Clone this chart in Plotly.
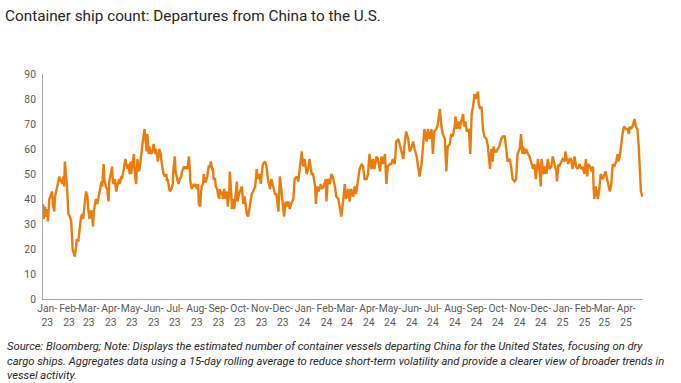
import datetime as dt
import plotly.graph_objects as go

# ---- data ----
base_date = "2022-12-26"
day_offset = [
    0, 1, 3, 4, 6, 7, 9, 11, 13, 14, 16, 17, 19, 21, 23, 25, 26, 27, 29, 30, 31, 33, 34, 36, 38, 40, 41, 42, 44, 45,
    47, 48, 50, 51, 52, 54, 56, 57, 59, 61, 63, 64, 66, 67, 69, 71, 72, 74, 75, 77, 79, 81, 83, 84, 86, 87, 89, 91, 93, 94,
    96, 98, 99, 100, 102, 104, 105, 107, 108, 109, 111, 112, 114, 116, 117, 118, 120, 121, 123, 124, 125, 127, 129, 130, 132, 134, 135, 137, 138, 140,
    141, 142, 144, 145, 147, 148, 150, 151, 152, 154, 156, 157, 159, 160, 162, 163, 165, 167, 168, 170, 171, 173, 175, 176, 177, 179, 180, 182, 184, 185,
    187, 188, 190, 191, 192, 194, 196, 197, 199, 200, 202, 204, 205, 207, 208, 209, 211, 212, 214, 216, 217, 218, 220, 221, 223, 224, 225, 227, 228, 230,
    231, 233, 234, 235, 237, 238, 240, 241, 242, 244, 245, 247, 248, 250, 251, 252, 254, 255, 257, 258, 259, 261, 262, 264, 265, 267, 268, 269, 271, 272,
    274, 275, 276, 278,
    282, 284, 286, 289, 291, 294, 296, 298, 301, 303, 305, 307, 309, 310, 312, 315, 317, 319, 322, 324, 327, 329, 331, 334, 336, 338, 341, 342, 344, 345,
    348, 350, 352, 355, 357, 360, 362, 364, 367, 369, 371, 374, 376, 378, 381, 383, 386, 387, 389, 391, 394, 396, 398, 401, 402, 404, 407, 409, 411, 414,
    416, 419, 421, 423, 426, 428, 430, 433, 435, 437, 440, 442, 444, 447, 449, 452, 454, 456, 459, 461, 463, 466, 468, 470, 473, 475, 478, 480, 482, 485,
    487, 489, 492, 494, 496, 499, 501, 504, 506, 508, 511, 513, 515, 518, 520, 522, 525, 527, 530, 532, 534, 537, 539, 541, 544, 546, 548, 551, 553, 555,
    558, 560, 563,
    565, 567, 570, 572, 574, 577, 579, 581, 584, 585, 587, 589, 591, 593, 596, 597, 599, 601, 604, 606, 608, 610, 612, 614, 617, 618, 620, 622, 624, 626,
    629, 631, 632, 634, 636, 638, 639, 641, 643, 645, 647, 650, 652, 655, 657, 659, 662, 664, 666, 669, 671, 673, 676, 678, 680, 681, 683, 685, 688, 690,
    692, 695, 697, 699, 702, 704, 706, 707, 710, 712, 714, 716, 718, 721, 723, 725, 728, 729, 731, 732, 735, 737, 740, 741, 743, 745, 747, 749, 751, 754,
    756, 758, 761, 763, 765, 768, 770, 772, 773, 776, 778, 780, 781, 782, 784, 787, 789, 791, 794, 796, 798, 800, 802, 804, 806, 808, 810, 813, 815, 816,
    818, 820, 822, 824, 827, 829, 831, 832, 834, 836, 839, 841, 843, 845, 846, 847, 848, 850, 851,
]
ships = [
    38, 32, 37, 33, 36, 31, 40, 42, 43, 38, 35, 41, 43, 46, 49, 47, 48, 46, 49, 45, 55, 50, 45, 34, 33, 31, 27, 20, 18, 17,
    21, 24, 23, 26, 30, 33, 34, 32, 38, 43, 41, 36, 32, 35, 35, 29, 35, 38, 40, 38, 42, 44, 47, 45, 54, 48, 45, 44, 39, 47,
    50, 53, 47, 46, 48, 43, 45, 47, 48, 46, 49, 48, 51, 53, 56, 54, 52, 54, 50, 55, 50, 54, 58, 51, 46, 56, 51, 52, 55, 58,
    62, 64, 68, 64, 59, 66, 58, 61, 59, 58, 61, 62, 58, 60, 57, 55, 60, 58, 55, 52, 50, 49, 50, 47, 48, 44, 43, 44, 46, 52,
    57, 51, 49, 48, 46, 48, 49, 51, 52, 53, 52, 53, 52, 57, 53, 47, 44, 45, 46, 45, 46, 44, 46, 38, 37, 42, 45, 46, 50, 47,
    47, 49, 51, 53, 53, 55, 52, 52, 48, 48, 45, 44, 42, 40, 44, 42, 43, 40, 44, 41, 40, 43, 37, 42, 51, 42, 36, 40, 36, 38,
    44, 47, 39, 42,
    45, 38, 41, 34, 33, 38, 42, 43, 45, 52, 48, 50, 46, 50, 54, 55, 53, 48, 44, 48, 45, 42, 42, 35, 49, 43, 37, 33, 39, 37,
    39, 36, 38, 40, 48, 49, 47, 53, 59, 53, 56, 50, 52, 56, 50, 50, 45, 38, 45, 43, 46, 44, 45, 48, 39, 48, 46, 50, 49, 45,
    41, 40, 37, 33, 40, 46, 40, 44, 39, 44, 41, 45, 42, 47, 52, 54, 53, 48, 48, 50, 58, 52, 56, 52, 57, 56, 51, 57, 54, 58,
    46, 53, 54, 54, 56, 54, 63, 64, 62, 60, 56, 62, 67, 64, 59, 60, 63, 60, 57, 53, 49, 54, 60, 68, 63, 68, 64, 68, 58, 67,
    68, 70, 76,
    69, 66, 64, 51, 61, 62, 66, 65, 69, 73, 68, 71, 68, 71, 74, 69, 71, 67, 68, 58, 74, 77, 82, 80, 83, 78, 76, 77, 68, 65,
    64, 61, 57, 52, 60, 55, 61, 59, 59, 60, 61, 64, 65, 65, 61, 55, 56, 53, 48, 47, 48, 58, 60, 66, 58, 61, 58, 60, 58, 57,
    55, 52, 54, 48, 56, 52, 45, 56, 50, 53, 50, 56, 52, 53, 57, 54, 51, 47, 54, 53, 55, 56, 55, 59, 56, 54, 56, 56, 52, 57,
    53, 52, 54, 52, 53, 50, 56, 49, 54, 53, 51, 53, 44, 40, 45, 40, 44, 50, 48, 50, 51, 48, 45, 43, 46, 54, 53, 55, 58, 55,
    57, 62, 66, 69, 68, 68, 66, 69, 68, 69, 72, 69, 68, 61, 56, 50, 43, 41, 42,
]
month_ticks = [
    "2023-01-01", "2023-02-01", "2023-03-01", "2023-04-01", "2023-05-01", "2023-06-01", "2023-07-01",
    "2023-08-01", "2023-09-01", "2023-10-01", "2023-11-01", "2023-12-01", "2024-01-01", "2024-02-01",
    "2024-03-01", "2024-04-01", "2024-05-01", "2024-06-01", "2024-07-01", "2024-08-01", "2024-09-01",
    "2024-10-01", "2024-11-01", "2024-12-01", "2025-01-01", "2025-02-01", "2025-03-01", "2025-04-01",
]
month_labels = [
    "Jan-<br>23", "Feb-<br>23", "Mar-<br>23", "Apr-<br>23", "May-<br>23", "Jun-<br>23", "Jul-<br>23",
    "Aug-<br>23", "Sep-<br>23", "Oct-<br>23", "Nov-<br>23", "Dec-<br>23", "Jan-<br>24", "Feb-<br>24",
    "Mar-<br>24", "Apr-<br>24", "May-<br>24", "Jun-<br>24", "Jul-<br>24", "Aug-<br>24", "Sep-<br>24",
    "Oct-<br>24", "Nov-<br>24", "Dec-<br>24", "Jan-<br>25", "Feb-<br>25", "Mar-<br>25", "Apr-<br>25",
]
y_ticks = [0, 10, 20, 30, 40, 50, 60, 70, 80, 90]

title_text = "Container ship count: Departures from China to the U.S."
note_text = (
    "Source: Bloomberg; Note: Displays the estimated number of container vessels departing China for the United States, focusing on dry<br>"
    "cargo ships. Aggregates data using a 15-day rolling average to reduce short-term volatility and provide a clearer view of broader trends in<br>"
    "vessel activity."
)

start = dt.date.fromisoformat(base_date)
dates = [start + dt.timedelta(days=d) for d in day_offset]
x_end = start + dt.timedelta(days=851)

W, H = 681, 383
L, R, T, B = 43, 38, 74, 84

fig = go.Figure()
fig.add_trace(go.Scatter(
    x=dates, y=ships, mode="lines",
    line=dict(color="#E97E10", width=2.4),
    hoverinfo="skip", showlegend=False,
))

fig.update_layout(
    width=W, height=H,
    margin=dict(l=L, r=R, t=T, b=B, autoexpand=False),
    paper_bgcolor="white", plot_bgcolor="white",
    font=dict(family="Roboto, Arial, sans-serif", color="#595959"),
    title=dict(
        text=title_text, xref="container", yref="container",
        x=5 / W, xanchor="left", y=1 - 16 / H, yanchor="middle",
        font=dict(family="Roboto, Arial, sans-serif", size=15.3, color="#262626"),
    ),
    xaxis=dict(
        type="date", range=[start, x_end],
        tickmode="array", tickvals=month_ticks, ticktext=month_labels,
        tickangle=0, automargin=False,
        showgrid=False, zeroline=False, ticks="",
        showline=True, linecolor="#A6A6A6", linewidth=1,
        tickfont=dict(size=10.3, color="#595959"),
    ),
    yaxis=dict(
        range=[0, 90], tickmode="array", tickvals=y_ticks, automargin=False,
        showgrid=False, zeroline=False, ticks="", ticklabelstandoff=4,
        showline=True, linecolor="#A6A6A6", linewidth=1,
        tickfont=dict(size=10.3, color="#595959"),
    ),
)

plot_w = W - L - R
plot_h = H - T - B
fig.add_annotation(
    text="<i>" + note_text + "</i>",
    xref="paper", yref="paper",
    x=(5 - L) / plot_w, y=-(338 - (H - B)) / plot_h,
    xanchor="left", yanchor="top", align="left", showarrow=False,
    font=dict(family="Roboto, Arial, sans-serif", size=11.2, color="#262626"),
)

fig.write_html(
    "out.html",
    config={"displayModeBar": False},
    post_script="document.body.style.margin='0';",
)
